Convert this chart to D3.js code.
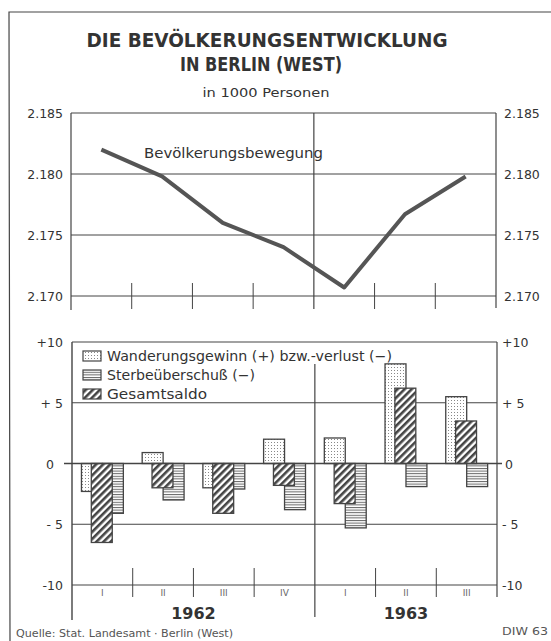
<!DOCTYPE html>
<html>
<head>
<meta charset="utf-8">
<script src="https://cdn.jsdelivr.net/npm/d3@7"></script>
<style>
  body { margin: 0; background: #fff; }
  svg { display: block; }
  text { font-family: 'DejaVu Sans', sans-serif; fill: #333; }
</style>
</head>
<body>
<svg id="chart" width="551" height="641"></svg>
<script>
'use strict';
// quarters 1962 I - 1963 III
var quarterKeys = ['62-I','62-II','62-III','62-IV','63-I','63-II','63-III'],
    quarterLabels = ['I','II','III','IV','I','II','III'],
    years = [{label:'1962', from:0, to:3}, {label:'1963', from:4, to:6}];
// population at end of quarter, in 1000
var population = [2182, 2179.8, 2176, 2174, 2170.7, 2176.7, 2179.8];
// movements, in 1000
var migration = [-2.3, 0.9, -2.0, 2.0, 2.1, 8.2, 5.5],
    deathSurplus = [-4.1, -3.0, -2.1, -3.8, -5.3, -1.9, -1.9],
    totalBalance = [-6.5, -2.0, -4.1, -1.8, -3.3, 6.2, 3.5];
var topTicks = [2170, 2175, 2180, 2185],
    botTicks = [-10, -5, 0, 5, 10],
    botTickLabels = ['-10', '- 5', '0', '+ 5', '+10'];

var ink = '#444';
var svg = d3.select('#chart');
var de = d3.formatLocale({decimal:',', thousands:'.', grouping:[3], currency:['','']});
var fmt = de.format(',d');

var x = d3.scaleBand().domain(quarterKeys).range([71, 496]).padding(0);
var bw = x.bandwidth();
var yTop = d3.scaleLinear().domain([2170, 2185]).range([296, 113]);
var yBot = d3.scaleLinear().domain([-10, 10]).range([585, 342]);

// patterns
var defs = svg.append('defs');
var pDot = defs.append('pattern').attr('id','dots').attr('patternUnits','userSpaceOnUse')
  .attr('width',3).attr('height',3);
pDot.append('rect').attr('width',3).attr('height',3).attr('fill','#fff');
pDot.append('rect').attr('x',1).attr('y',1).attr('width',1).attr('height',1).attr('fill','#888');
var pStr = defs.append('pattern').attr('id','stripes').attr('patternUnits','userSpaceOnUse')
  .attr('width',4).attr('height',2.6);
pStr.append('rect').attr('width',4).attr('height',2.6).attr('fill','#fff');
pStr.append('rect').attr('y',0).attr('width',4).attr('height',1).attr('fill','#666');
var pHat = defs.append('pattern').attr('id','hatch').attr('patternUnits','userSpaceOnUse')
  .attr('width',5).attr('height',5).attr('patternTransform','rotate(45)');
pHat.append('rect').attr('width',5).attr('height',5).attr('fill','#fff');
pHat.append('rect').attr('x',0).attr('width',2.6).attr('height',5).attr('fill','#444');

// outer frame
svg.append('path').attr('d','M10,641 L9,12 L551,12').attr('fill','none')
  .attr('stroke',ink).attr('stroke-width',1.2);

// title
svg.append('text').attr('x',267).attr('y',47).attr('text-anchor','middle')
  .style('font-size','20px').style('font-weight','bold').attr('textLength',361)
  .attr('lengthAdjust','spacingAndGlyphs').text('DIE BEVÖLKERUNGSENTWICKLUNG');
svg.append('text').attr('x',261).attr('y',71).attr('text-anchor','middle')
  .style('font-size','20px').style('font-weight','bold').attr('textLength',162)
  .attr('lengthAdjust','spacingAndGlyphs').text('IN BERLIN (WEST)');
svg.append('text').attr('x',266).attr('y',97).attr('text-anchor','middle')
  .style('font-size','13px').attr('textLength',127)
  .attr('lengthAdjust','spacingAndGlyphs').text('in 1000 Personen');

function line(g, x1, y1, x2, y2, w) {
  g.append('line').attr('x1',x1).attr('y1',y1).attr('x2',x2).attr('y2',y2)
    .attr('stroke',ink).attr('stroke-width',w||1);
}
var bounds = quarterKeys.map(function(k){return x(k);}).concat([x.range()[1]]);

// ---- top panel
var gt = svg.append('g');
topTicks.forEach(function(t){
  line(gt, 71, yTop(t), 496, yTop(t), t===2185?1.2:1);
  gt.append('text').attr('x',63).attr('y',yTop(t)+5).attr('text-anchor','end')
    .style('font-size','12.5px').text(fmt(t));
  gt.append('text').attr('x',504).attr('y',yTop(t)+5)
    .style('font-size','12.5px').text(fmt(t));
});
line(gt, 71, 113, 71, 310, 1.2);
line(gt, 496, 113, 496, 308, 1.2);
bounds.slice(1,-1).forEach(function(b,i){
  if (i===3) line(gt, b, 113, b, 309, 1.2);
  else line(gt, b, 283, b, 309, 1);
});
gt.append('path').datum(population)
  .attr('d', d3.line().x(function(d,i){return x(quarterKeys[i])+bw/2;}).y(function(d){return yTop(d);}))
  .attr('fill','none').attr('stroke','#555').attr('stroke-width',4).attr('stroke-linejoin','round');
gt.append('text').attr('x',144).attr('y',158).style('font-size','14.5px')
  .attr('textLength',179).attr('lengthAdjust','spacingAndGlyphs').text('Bevölkerungsbewegung');

// ---- bottom panel
var gb = svg.append('g');
botTicks.forEach(function(t,i){
  if (t===5 || t===-5) line(gb, 72, yBot(t), 497, yBot(t), 1);
  gb.append('text').attr('x', t===0?54:63).attr('y',yBot(t)+5).attr('text-anchor','end')
    .style('font-size','12.5px').text(botTickLabels[i]);
  gb.append('text').attr('x', t===0?505:502).attr('y',yBot(t)+5)
    .style('font-size','12.5px').text(botTickLabels[i]);
});
line(gb, 72, 342, 497, 342, 1.2);
line(gb, 72, 585, 497, 585, 1.2);
line(gb, 72, 342, 72, 620, 1.4);
line(gb, 497, 342, 497, 597, 1.2);
bounds.slice(1,-1).forEach(function(b,i){
  if (i===3) line(gb, b+1, 363, b+1, 617, 1.2);
  else line(gb, b+1, 568, b+1, 597, 1);
});
quarterKeys.forEach(function(k,i){
  gb.append('text').attr('x',x(k)+bw/2+1).attr('y',596).attr('text-anchor','middle')
    .style('font-size','9px').style('fill','#666').text(quarterLabels[i]);
});
years.forEach(function(y){
  var cx = (x(quarterKeys[y.from]) + x(quarterKeys[y.to]) + bw)/2;
  gb.append('text').attr('x',cx+1).attr('y',619).attr('text-anchor','middle')
    .style('font-size','16px').style('font-weight','bold').text(y.label);
});

// legend (white backing hides the gridline)
var legend = [
  {fill:'url(#dots)', label:'Wanderungsgewinn (+) bzw.-verlust (−)', len:285},
  {fill:'url(#stripes)', label:'Sterbeüberschuß (−)', len:148},
  {fill:'url(#hatch)', label:'Gesamtsaldo', len:100}
];
var lg = gb.append('g');
legend.forEach(function(d,i){
  var yy = 351 + i*19;
  lg.append('rect').attr('x',79).attr('y',yy-3).attr('width',d.len+32).attr('height',16).attr('fill','#fff');
  lg.append('rect').attr('x',83).attr('y',yy).attr('width',18).attr('height',10)
    .attr('fill',d.fill).attr('stroke',ink).attr('stroke-width',1.2);
  lg.append('text').attr('x',107).attr('y',yy+10).style('font-size','14px')
    .attr('textLength',d.len).attr('lengthAdjust','spacingAndGlyphs').text(d.label);
});

// bars: dotted, striped, then hatched on top
var barW = bw*0.345;
var series = [
  {values:migration, fill:'url(#dots)', off:-0.95},
  {values:deathSurplus, fill:'url(#stripes)', off:0.05},
  {values:totalBalance, fill:'url(#hatch)', off:-0.48}
];
series.forEach(function(s){
  gb.append('g').selectAll('rect').data(s.values).enter().append('rect')
    .attr('x', function(d,i){return x(quarterKeys[i]) + bw/2 + s.off*barW;})
    .attr('y', function(d){return yBot(Math.max(0,d));})
    .attr('width', barW)
    .attr('height', function(d){return Math.abs(yBot(d)-yBot(0));})
    .attr('fill', s.fill).attr('stroke', ink).attr('stroke-width', 1.3);
});
line(gb, 64, yBot(0), 502, yBot(0), 1.3);

// footer
svg.append('text').attr('x',16).attr('y',637).style('font-size','10.5px').style('fill','#555')
  .attr('textLength',217).attr('lengthAdjust','spacingAndGlyphs')
  .text('Quelle: Stat. Landesamt · Berlin (West)');
svg.append('text').attr('x',502).attr('y',635).style('font-size','10.5px').style('fill','#555')
  .attr('textLength',46).attr('lengthAdjust','spacingAndGlyphs').text('DIW 63');
</script>
</body>
</html>
